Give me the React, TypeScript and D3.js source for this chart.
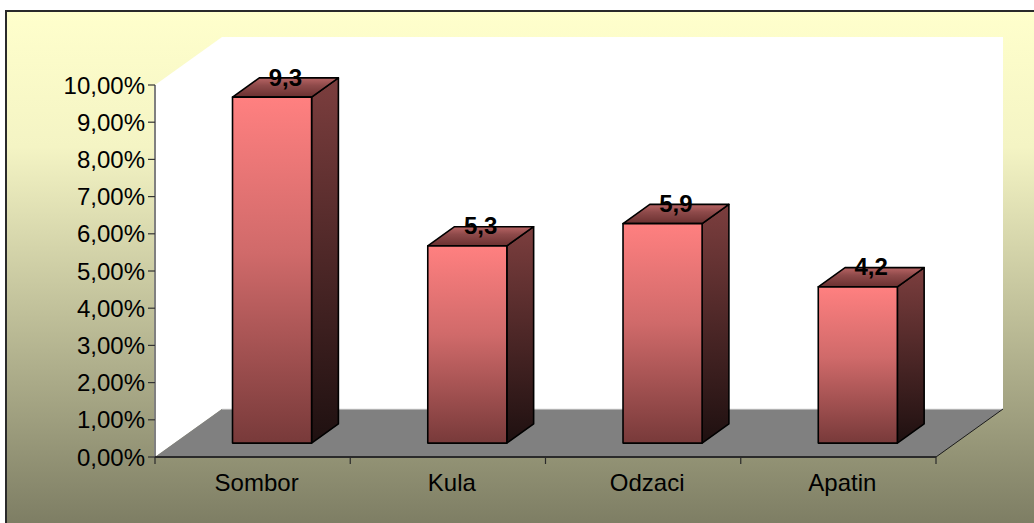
import React from "react";
import * as d3 from "d3";

const categories = ["Sombor", "Kula", "Odzaci", "Apatin"];
const values = [9.3, 5.3, 5.9, 4.2];
const valueLabels = ["9,3", "5,3", "5,9", "4,2"];
const yTicks = [0, 1, 2, 3, 4, 5, 6, 7, 8, 9, 10];

const W = 1034;
const H = 523;
const FONT = "'Liberation Sans', Arial, sans-serif";

// plot box (front plane) and 3D depth offset
const left = 155;
const right = 936;
const bottom = 457;
const top = 85;
const depthX = 67;
const depthY = -48;
const barFront = 0.29; // depth fraction of bar front face
const barBack = 0.69;

const proj = (x: number, y: number, d: number): [number, number] => [x + d * depthX, y + d * depthY];
const pts = (p: [number, number][]) => p.map(q => q.join(",")).join(" ");

export default function App() {
  const x = d3.scaleBand<string>().domain(categories).range([left, right]).paddingInner(0.595).paddingOuter(0.2975);
  const y = d3.scaleLinear().domain([0, 10]).range([bottom, top]);
  const step = x.step();
  const fmt = (v: number) => v.toFixed(2).replace(".", ",") + "%";

  const wallTop = proj(left, top, 1)[1];
  const wallLeft = left + depthX;
  const wallRight = right + depthX;
  const floorBack = bottom + depthY;

  return (
    <svg width={W} height={H} style={{ position: "absolute", left: 0, top: 0 }} fontFamily={FONT}>
      <defs>
        <linearGradient id="bg" x1="0" y1="0" x2="0" y2="1">
          <stop offset="0" stopColor="#ffffcc" />
          <stop offset="0.25" stopColor="#f4f4c4" />
          <stop offset="1" stopColor="#74745c" />
        </linearGradient>
        <linearGradient id="front" x1="0" y1="0" x2="0" y2="1">
          <stop offset="0" stopColor="#ff8080" />
          <stop offset="0.45" stopColor="#d06a6a" />
          <stop offset="1" stopColor="#783a3a" />
        </linearGradient>
        <linearGradient id="side" x1="0" y1="0" x2="0" y2="1">
          <stop offset="0" stopColor="#7c3e3e" />
          <stop offset="1" stopColor="#1e1010" />
        </linearGradient>
        <linearGradient id="topface" x1="0" y1="1" x2="0" y2="0">
          <stop offset="0" stopColor="#6a3030" />
          <stop offset="0.6" stopColor="#8e4a4a" />
          <stop offset="1" stopColor="#b86464" />
        </linearGradient>
      </defs>

      <rect x={6} y={11} width={W + 20} height={H + 20} fill="url(#bg)" stroke="#2a2a2a" strokeWidth={2} />

      {/* walls and floor */}
      <rect x={wallLeft} y={wallTop} width={wallRight - wallLeft} height={floorBack - wallTop} fill="#ffffff" />
      <polygon points={pts([[left, top], [wallLeft, wallTop], [wallLeft, floorBack], [left, bottom]])} fill="#ffffff" />
      <polygon points={pts([[left, bottom], [wallLeft, floorBack], [wallRight, floorBack], [right, bottom]])} fill="#808080" />
      <line x1={wallLeft} x2={wallRight} y1={floorBack} y2={floorBack} stroke="#e4e4e4" strokeWidth={1} />
      <line x1={right} y1={bottom} x2={wallRight} y2={floorBack} stroke="#1a1a1a" strokeWidth={1} />

      {/* y axis */}
      <line x1={left} x2={left} y1={top} y2={bottom} stroke="#808080" strokeWidth={2} />
      {yTicks.map(t => (
        <g key={t}>
          <line x1={left - 7} x2={left} y1={y(t)} y2={y(t)} stroke="#333" strokeWidth={1.2} />
          <text x={left - 10} y={y(t)} dy="0.36em" textAnchor="end" fontSize={24} fill="#000">
            {fmt(t)}
          </text>
        </g>
      ))}

      {/* x axis */}
      <line x1={left} x2={right} y1={bottom} y2={bottom} stroke="#2a2a2a" strokeWidth={2} />
      {d3.range(categories.length + 1).map(i => (
        <line key={i} x1={left + i * step} x2={left + i * step} y1={bottom} y2={bottom + 7} stroke="#2a2a2a" strokeWidth={1.2} />
      ))}
      {categories.map(c => (
        <text key={c} x={(x(c) as number) + x.bandwidth() / 2 + 4} y={bottom + 34} textAnchor="middle" fontSize={24} fill="#000">
          {c}
        </text>
      ))}

      {/* bars */}
      {categories.map((c, i) => {
        const x0 = x(c) as number;
        const x1 = x0 + x.bandwidth();
        const yv = y(values[i]);
        const fbl = proj(x0, bottom, barFront);
        const fbr = proj(x1, bottom, barFront);
        const ftl = proj(x0, yv, barFront);
        const ftr = proj(x1, yv, barFront);
        const btl = proj(x0, yv, barBack);
        const btr = proj(x1, yv, barBack);
        const bbr = proj(x1, bottom, barBack);
        const cx = (ftl[0] + btr[0]) / 2;
        const cy = (ftl[1] + btr[1]) / 2;
        return (
          <g key={c} stroke="#000" strokeWidth={1.6} strokeLinejoin="round">
            <polygon points={pts([ftr, btr, bbr, fbr])} fill="url(#side)" />
            <polygon points={pts([ftl, btl, btr, ftr])} fill="url(#topface)" />
            <polygon points={pts([ftl, ftr, fbr, fbl])} fill="url(#front)" />
            <text x={cx} y={cy - 2} textAnchor="middle" fontSize={24} fontWeight="bold" fill="#000" stroke="none">
              {valueLabels[i]}
            </text>
          </g>
        );
      })}
    </svg>
  );
}
